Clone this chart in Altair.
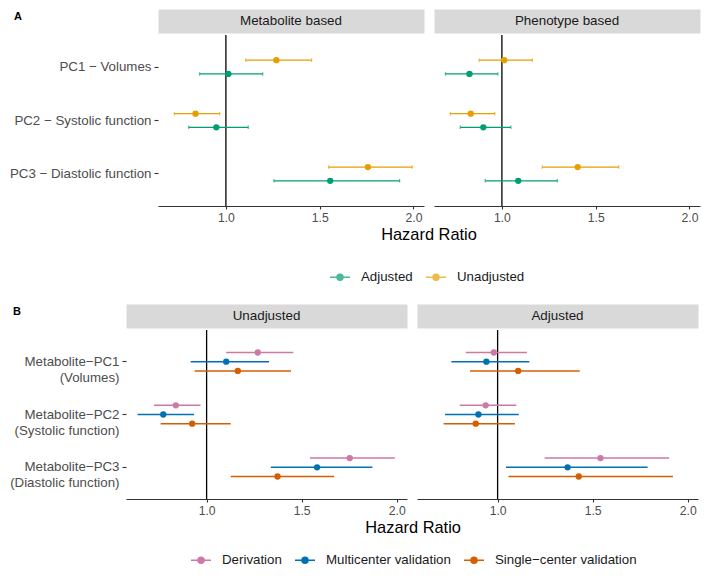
import altair as alt
import pandas as pd

FONT = "Liberation Sans"

# ---------------- Panel A ----------------
a_categories = ["PC1 − Volumes", "PC2 − Systolic function", "PC3 − Diastolic function"]
a_models = ["Adjusted", "Unadjusted"]          # legend order
a_dodge = ["Unadjusted", "Adjusted"]           # top-to-bottom within a row
a_colors = ["#009E73", "#E69F00"]
a_facets = ["Metabolite based", "Phenotype based"]

# Metabolite based
a_met_unadj_hr = [1.269, 0.838, 1.757]
a_met_unadj_lo = [1.106, 0.725, 1.548]
a_met_unadj_hi = [1.457, 0.967, 1.993]
a_met_adj_hr = [1.013, 0.949, 1.556]
a_met_adj_lo = [0.860, 0.802, 1.256]
a_met_adj_hi = [1.196, 1.119, 1.926]
# Phenotype based
a_phe_unadj_hr = [1.012, 0.834, 1.404]
a_phe_unadj_lo = [0.879, 0.725, 1.215]
a_phe_unadj_hi = [1.162, 0.962, 1.623]
a_phe_adj_hr = [0.827, 0.901, 1.087]
a_phe_adj_lo = [0.699, 0.778, 0.911]
a_phe_adj_hi = [0.978, 1.048, 1.295]

# ---------------- Panel B ----------------
b_categories = ["Metabolite−PC1|(Volumes)", "Metabolite−PC2|(Systolic function)",
                "Metabolite−PC3|(Diastolic function)"]
b_cohorts = ["Derivation", "Multicenter validation", "Single−center validation"]
b_colors = ["#CC79A7", "#0072B2", "#D55E00"]
b_facets = ["Unadjusted", "Adjusted"]

# Unadjusted
b_un_der_hr = [1.269, 0.838, 1.753]
b_un_der_lo = [1.103, 0.723, 1.544]
b_un_der_hi = [1.456, 0.968, 1.990]
b_un_mul_hr = [1.103, 0.772, 1.581]
b_un_mul_lo = [0.916, 0.637, 1.338]
b_un_mul_hi = [1.328, 0.934, 1.872]
b_un_sin_hr = [1.164, 0.924, 1.373]
b_un_sin_lo = [0.937, 0.758, 1.127]
b_un_sin_hi = [1.444, 1.127, 1.671]
# Adjusted
b_ad_der_hr = [0.980, 0.937, 1.541]
b_ad_der_lo = [0.833, 0.801, 1.247]
b_ad_der_hi = [1.154, 1.098, 1.902]
b_ad_mul_hr = [0.941, 0.899, 1.368]
b_ad_mul_lo = [0.757, 0.723, 1.044]
b_ad_mul_hi = [1.167, 1.111, 1.789]
b_ad_sin_hr = [1.108, 0.885, 1.427]
b_ad_sin_lo = [0.855, 0.716, 1.057]
b_ad_sin_hi = [1.432, 1.091, 1.922]

x_ticks = [1.0, 1.5, 2.0]
x_title = "Hazard Ratio"


def make_df(cats, series):
    rows = []
    for grp, hr, lo, hi in series:
        for c, h, l, u in zip(cats, hr, lo, hi):
            rows.append({"cat": c, "grp": grp, "hr": h, "lo": l, "hi": u})
    return pd.DataFrame(rows)


LEGEND_PATH = ("M-1,0L1,0M-0.3,0A0.3,0.3,0,1,1,0.3,0A0.3,0.3,0,1,1,-0.3,0Z")


def forest(df, cats, dodge, groups, colors, xdom, width, height, sub, first, caps, lw, leg_xy):
    if first:
        y_axis = alt.Axis(title=None, domain=False, ticks=True, tickSize=4, tickColor="#333333",
                          tickWidth=1.1, labelFontSize=13.3, labelColor="#4D4D4D", labelPadding=3,
                          labelExpr="split(datum.label, '|')", labelLineHeight=16, grid=False,
                          labelFont=FONT)
    else:
        y_axis = alt.Axis(title=None, domain=False, ticks=False, labels=False, grid=False)
    y = alt.Y("cat:N", sort=cats, scale=alt.Scale(paddingInner=0, paddingOuter=0.1), axis=y_axis)
    step = height / (len(cats) + 0.2)
    half = len(dodge) * sub / 2
    yo = alt.YOffset("grp:N", sort=dodge,
                     scale=alt.Scale(paddingInner=0, paddingOuter=0,
                                     range=[step / 2 - half, step / 2 + half]))
    legend = alt.Legend(title=None, orient="none", legendX=leg_xy[0], legendY=leg_xy[1],
                        direction="horizontal", symbolType=LEGEND_PATH,
                        symbolSize=400, symbolStrokeWidth=1.5, labelFontSize=13.3,
                        labelColor="#1A1A1A", labelFont=FONT, columnPadding=10, labelOffset=10)
    col = alt.Color("grp:N", scale=alt.Scale(domain=groups, range=colors), legend=legend)
    xs = alt.Scale(domain=xdom, nice=False, zero=False)
    xa = alt.Axis(title=None, values=x_ticks, format=".1f", grid=False, domainColor="#333333",
                  domainWidth=1.1, tickColor="#333333", tickSize=3, tickWidth=1.1,
                  labelFontSize=12.2, labelColor="#4D4D4D", labelPadding=2, labelFont=FONT)
    ref = alt.Chart(pd.DataFrame({"hr": [1.0]})).mark_rule(color="black", strokeWidth=1.3).encode(
        x=alt.X("hr:Q", scale=xs, axis=xa))
    base = alt.Chart(df)
    bars = base.mark_rule(strokeWidth=lw).encode(
        x=alt.X("lo:Q", scale=xs, axis=xa), x2="hi:Q", y=y, yOffset=yo, color=col)
    layers = [ref, bars]
    if caps:
        for f in ["lo", "hi"]:
            layers.append(base.mark_tick(thickness=1.2, size=3.5).encode(
                x=alt.X(f + ":Q", scale=xs, axis=xa), y=y, yOffset=yo, color=col))
    pts = base.mark_circle(size=40, opacity=1).encode(
        x=alt.X("hr:Q", scale=xs, axis=xa), y=y, yOffset=yo, color=col)
    layers.append(pts)
    return alt.layer(*layers).properties(width=width, height=height)


def panel(letter, cats, facets, dfs, dodge, groups, colors, xdom, width, height, sub, caps, lw,
          dx, leg_xy, letter_off):
    cols = []
    for i, (facet, df) in enumerate(zip(facets, dfs)):
        props = dict(width=width, height=24,
                     view=alt.ViewBackground(fill="#D9D9D9", stroke="transparent"))
        if i == 0:
            props["title"] = alt.TitleParams(letter, orient="left", anchor="end", angle=0,
                                             align="right", baseline="top", offset=letter_off,
                                             dy=2, fontSize=11, fontWeight="bold", color="black",
                                             font=FONT)
        header = alt.Chart(pd.DataFrame({"label": [facet]})).mark_text(
            font=FONT, fontSize=13.4, color="#1A1A1A").encode(text="label:N").properties(**props)
        plot = forest(df, cats, dodge, groups, colors, xdom, width, height, sub, i == 0, caps, lw,
                      leg_xy)
        cols.append(alt.vconcat(header, plot, spacing=0))
    inner = alt.hconcat(*cols, spacing=8).properties(
        title=alt.TitleParams(x_title, orient="bottom", anchor="middle", frame="bounds", dx=dx,
                              fontSize=16.4, fontWeight="normal", color="black", font=FONT, offset=4))
    # a 1px invisible anchor on the left so that each panel is laid out from its left edge
    anchor = alt.Chart(pd.DataFrame({"s": [0]})).mark_point(opacity=0, size=1).properties(
        width=1, height=1)
    return alt.hconcat(anchor, inner, spacing=0)


dfA1 = make_df(a_categories, [("Unadjusted", a_met_unadj_hr, a_met_unadj_lo, a_met_unadj_hi),
                              ("Adjusted", a_met_adj_hr, a_met_adj_lo, a_met_adj_hi)])
dfA2 = make_df(a_categories, [("Unadjusted", a_phe_unadj_hr, a_phe_unadj_lo, a_phe_unadj_hi),
                              ("Adjusted", a_phe_adj_hr, a_phe_adj_lo, a_phe_adj_hi)])
dfB1 = make_df(b_categories, [(b_cohorts[0], b_un_der_hr, b_un_der_lo, b_un_der_hi),
                              (b_cohorts[1], b_un_mul_hr, b_un_mul_lo, b_un_mul_hi),
                              (b_cohorts[2], b_un_sin_hr, b_un_sin_lo, b_un_sin_hi)])
dfB2 = make_df(b_categories, [(b_cohorts[0], b_ad_der_hr, b_ad_der_lo, b_ad_der_hi),
                              (b_cohorts[1], b_ad_mul_hr, b_ad_mul_lo, b_ad_mul_hi),
                              (b_cohorts[2], b_ad_sin_hr, b_ad_sin_lo, b_ad_sin_hi)])

panelA = panel("A", a_categories, a_facets, [dfA1, dfA2], a_dodge, a_models, a_colors,
               [0.638, 2.056], 266, 171, 13.7, True, 1.3, 74, (321, 257), 128)
panelB = panel("B", b_categories, b_facets, [dfB1, dfB2], b_cohorts, b_cohorts, b_colors,
               [0.576, 2.054], 281, 169, 9.2, False, 1.5, 59, (182, 245), 97)

chart = alt.vconcat(panelA, panelB, spacing=19).resolve_scale(
    color="independent", yOffset="independent").properties(
    padding={"left": 0, "top": 0, "right": 0, "bottom": 0}).configure(
    font=FONT, view=alt.ViewConfig(strokeWidth=0))

chart.save("out.html", embed_options={"renderer": "svg", "actions": False})
